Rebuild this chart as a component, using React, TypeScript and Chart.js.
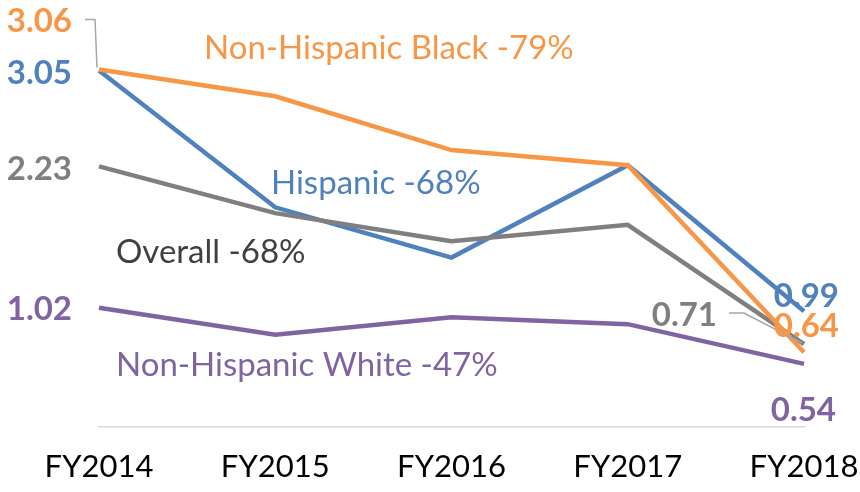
import React, { useEffect, useRef } from "react";
import { Chart, registerables } from "chart.js";

Chart.register(...registerables);

const categories = ["FY2014", "FY2015", "FY2016", "FY2017", "FY2018"];
const blackValues = [3.06, 2.83, 2.37, 2.24, 0.64];
const hispanicValues = [3.05, 1.88, 1.45, 2.24, 0.99];
const overallValues = [2.23, 1.83, 1.59, 1.73, 0.71];
const whiteValues = [1.02, 0.79, 0.94, 0.88, 0.54];

const seriesNames = ["Non-Hispanic Black -79%", "Hispanic -68%", "Overall -68%", "Non-Hispanic White -47%"];

const ORANGE = "#F79646";
const BLUE = "#4F81BD";
const GRAY = "#7F7F7F";
const PURPLE = "#8064A2";

const labelPlugin = {
  id: "customLabels",
  afterDatasetsDraw(chart: any) {
    const ctx = chart.ctx;
    const xs = chart.scales.x;
    const ys = chart.scales.y;
    const px = (i: number) => xs.getPixelForValue(i);
    const py = (v: number) => ys.getPixelForValue(v);
    ctx.save();
    // leader lines
    ctx.strokeStyle = "#A6A6A6";
    ctx.lineWidth = 1.5;
    ctx.beginPath();
    ctx.moveTo(px(0) - 14, py(blackValues[0]) - 50);
    ctx.lineTo(px(0) - 4, py(blackValues[0]) - 50);
    ctx.lineTo(px(0) - 2, py(blackValues[0]) - 2);
    ctx.stroke();
    ctx.beginPath();
    ctx.moveTo(px(4) - 75, py(overallValues[4]) - 31);
    ctx.lineTo(px(4) - 60, py(overallValues[4]) - 31);
    ctx.lineTo(px(4) - 2, py(overallValues[4]) - 1);
    ctx.stroke();

    const bold = "bold 33px Lato, 'Open Sans', sans-serif";
    const reg = "33px Lato, 'Open Sans', sans-serif";
    ctx.textBaseline = "middle";
    const txt = (s: string, x: number, y: number, color: string, font: string, align: string) => {
      ctx.font = font;
      ctx.fillStyle = color;
      ctx.textAlign = align;
      ctx.fillText(s, x, y);
    };
    // value labels
    txt(blackValues[0].toFixed(2), px(0) - 27, py(blackValues[0]) - 48, ORANGE, bold, "right");
    txt(hispanicValues[0].toFixed(2), px(0) - 27, py(hispanicValues[0]) + 3, BLUE, bold, "right");
    txt(overallValues[0].toFixed(2), px(0) - 27, py(overallValues[0]) + 3, GRAY, bold, "right");
    txt(whiteValues[0].toFixed(2), px(0) - 27, py(whiteValues[0]) + 2, PURPLE, bold, "right");
    txt(hispanicValues[4].toFixed(2), px(4) + 35, py(hispanicValues[4]) - 15, BLUE, bold, "right");
    txt(blackValues[4].toFixed(2), px(4) + 35, py(blackValues[4]) - 26, ORANGE, bold, "right");
    txt(overallValues[4].toFixed(2), px(4) - 87, py(overallValues[4]) - 29, GRAY, bold, "right");
    txt(whiteValues[4].toFixed(2), px(4) + 32, py(whiteValues[4]) + 46, PURPLE, bold, "right");
    // series labels
    txt(seriesNames[0], px(0) + 105, 48, ORANGE, reg, "left");
    txt(seriesNames[1], px(0) + 172, 183, BLUE, reg, "left");
    txt(seriesNames[2], px(0) + 17, 252, "#404040", reg, "left");
    txt(seriesNames[3], px(0) + 17, 365, PURPLE, reg, "left");
    ctx.restore();
  },
};

export default function App() {
  const ref = useRef<HTMLCanvasElement>(null);
  useEffect(() => {
    if (!ref.current) return;
    const ds = (data: number[], color: string, order: number) => ({
      data,
      borderColor: color,
      backgroundColor: color,
      borderWidth: 4.5,
      pointRadius: 0,
      tension: 0,
      order,
    });
    const chart = new Chart(ref.current, {
      type: "line",
      data: {
        labels: categories,
        datasets: [
          { label: seriesNames[3], ...ds(whiteValues, PURPLE, 4) },
          { label: seriesNames[1], ...ds(hispanicValues, BLUE, 3) },
          { label: seriesNames[2], ...ds(overallValues, GRAY, 2) },
          { label: seriesNames[0], ...ds(blackValues, ORANGE, 1) },
        ],
      },
      options: {
        animation: false,
        responsive: false,
        layout: { padding: { left: 99, right: 56, top: 18, bottom: 5 } },
        plugins: { legend: { display: false }, tooltip: { enabled: false } },
        scales: {
          x: {
            offset: false,
            grid: { display: false, drawTicks: false },
            border: { display: true, color: "#D9D9D9", width: 1.5 },
            ticks: {
              color: "#000000",
              font: { family: "Lato, 'Open Sans', sans-serif", size: 31 },
              padding: 21,
              maxRotation: 0,
              autoSkip: false,
            },
            afterFit(scale: any) {
              scale.height = 60;
              scale.paddingLeft = 0;
              scale.paddingRight = 0;
            },
          },
          y: {
            display: false,
            min: 0,
            max: 3.5,
          },
        },
      },
      plugins: [labelPlugin],
    });
    return () => chart.destroy();
  }, []);
  return (
    <div style={{ position: "absolute", left: 0, top: 0, width: 860, height: 492, background: "#fff" }}>
      <canvas ref={ref} width={860} height={492} style={{ width: 860, height: 492 }} />
    </div>
  );
}
